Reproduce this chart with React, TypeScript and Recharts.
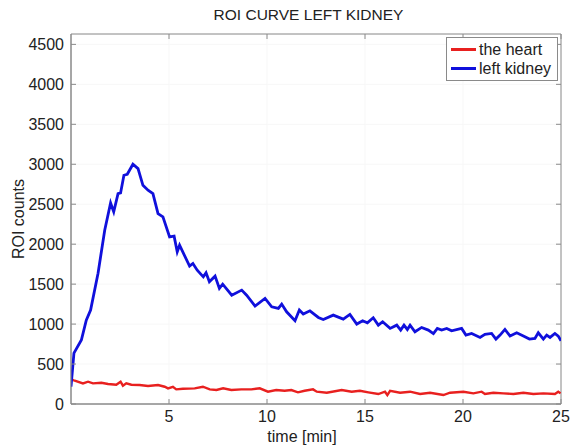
import { CartesianGrid, Legend, Line, LineChart, ReferenceArea, XAxis, YAxis } from 'recharts'

const kidneyTime = [
  0, 0.15, 0.53, 0.78, 1.0, 1.38, 1.72, 2.02, 2.18, 2.4, 2.53, 2.7, 2.87, 3.16, 3.42, 3.67, 3.93, 4.18,
  4.44, 4.69, 5.03, 5.26, 5.42, 5.54, 6.05, 6.22, 6.44, 6.75, 6.89, 7.06, 7.35, 7.57, 7.74, 8.2, 8.71,
  8.96, 9.39, 9.9, 10.24, 10.58, 10.75, 11.0, 11.43, 11.65, 11.85, 12.19, 12.62, 12.87, 13.38, 13.89,
  14.23, 14.58, 14.88, 15.12, 15.42, 15.68, 15.9, 16.28, 16.62, 16.82, 16.99, 17.16, 17.3, 17.55, 17.89,
  18.23, 18.49, 18.69, 18.91, 19.17, 19.42, 19.93, 20.15, 20.44, 20.87, 21.12, 21.46, 21.68, 21.89,
  22.14, 22.4, 22.74, 23.08, 23.39, 23.67, 23.84, 24.1, 24.27, 24.44, 24.69, 24.86, 25.0,
]
const kidneyCounts = [
  216, 637, 800, 1050, 1175, 1637, 2175, 2516, 2404, 2633, 2641, 2862, 2875, 3000, 2946, 2737, 2675, 2633,
  2383, 2341, 2091, 2100, 1904, 1987, 1725, 1758, 1675, 1591, 1641, 1529, 1600, 1446, 1500, 1362, 1425,
  1362, 1225, 1321, 1216, 1196, 1250, 1154, 1041, 1175, 1125, 1166, 1083, 1058, 1112, 1062,
  1121, 1000, 1041, 1016, 1079, 987, 1029, 946, 987, 925, 987, 933, 987, 904, 958,
  925, 880, 946, 925, 946, 916, 946, 862, 883, 833, 871, 883, 812, 862,
  933, 850, 891, 850, 812, 821, 891, 812, 862, 833, 883, 850, 791,
]

const heartTime = [
  0.02, 0.19, 0.61, 0.87, 1.12, 1.55, 1.89, 2.31, 2.53, 2.65, 2.82, 3.08, 3.5, 3.93, 4.44, 4.78, 4.95,
  5.2, 5.37, 5.71, 6.31, 6.73, 7.08, 7.42, 7.76, 8.18, 8.69, 9.2, 9.63, 10.05, 10.47, 10.9, 11.24, 11.58,
  11.92, 12.35, 12.54, 13.05, 13.81, 14.32, 14.74, 15.17, 15.68, 16.02, 16.14, 16.28, 16.79, 17.3, 17.81,
  18.32, 19.0, 19.34, 20.02, 20.53, 20.95, 21.12, 21.55, 22.06, 22.57, 23.08, 23.59, 24.1, 24.69, 24.86,
  24.98,
]
const heartCounts = [
  309, 291, 258, 279, 258, 266, 250, 241, 279, 229, 258, 241, 237, 225, 237, 216, 196,
  216, 183, 191, 196, 216, 183, 175, 196, 175, 183, 183, 196, 154, 175, 166, 175, 146,
  166, 183, 154, 141, 175, 154, 166, 146, 125, 154, 112, 166, 141, 154, 125,
  141, 112, 141, 154, 133, 154, 125, 141, 133, 125, 141, 125, 133, 125, 154,
  133,
]

const xTicks = [5, 10, 15, 20, 25]
const yTicks = [0, 500, 1000, 1500, 2000, 2500, 3000, 3500, 4000, 4500]

const heartData = heartTime.map((t, i) => ({ t, a: heartCounts[i] }))
const kidneyData = kidneyTime.map((t, i) => ({ t, b: kidneyCounts[i] }))

const W = 574
const H = 446
const PLOT_LEFT = 71
const PLOT_RIGHT = 561
const PLOT_TOP = 34
const PLOT_BOTTOM = 404
const FONT = '"Liberation Sans", Arial, sans-serif'
const AXIS = '#8a8a8a'
const TEXT = '#222'

function YTick(props: any) {
  const { x, y, payload } = props
  return (
    <g>
      <text x={x - 7} y={y} textAnchor="end" dominantBaseline="central" fontSize={16} fill={TEXT} fontFamily={FONT}>
        {payload.value}
      </text>
      <line x1={x} x2={x + 5} y1={y} y2={y} stroke={AXIS} />
      <line x1={PLOT_RIGHT - 5} x2={PLOT_RIGHT} y1={y} y2={y} stroke={AXIS} />
    </g>
  )
}

function XTick(props: any) {
  const { x, y, payload } = props
  return (
    <g>
      <text x={x} y={y + 18} textAnchor="middle" fontSize={16} fill={TEXT} fontFamily={FONT}>
        {payload.value}
      </text>
      <line x1={x} x2={x} y1={y - 5} y2={y} stroke={AXIS} />
      <line x1={x} x2={x} y1={PLOT_TOP} y2={PLOT_TOP + 5} stroke={AXIS} />
    </g>
  )
}

function LegendBox(props: any) {
  const items = props.payload || []
  return (
    <div
      style={{
        border: `1px solid ${AXIS}`,
        background: '#fff',
        padding: '2px 4px 2px 4px',
        fontFamily: FONT,
        fontSize: 16,
        color: TEXT,
        width: 102,
      }}
    >
      {items.map((it: any) => (
        <div key={it.value} style={{ display: 'flex', alignItems: 'center', height: 19 }}>
          <span style={{ display: 'inline-block', width: 25, height: 3, background: it.color, marginRight: 3 }} />
          <span>{it.value}</span>
        </div>
      ))}
    </div>
  )
}

export default function App() {
  return (
    <div style={{ position: 'absolute', left: 0, top: 0, width: W, height: H, background: '#fff' }}>
      <div
        style={{
          position: 'absolute',
          left: 0,
          width: 617,
          top: 6,
          textAlign: 'center',
          fontFamily: FONT,
          fontSize: 15.5,
          color: TEXT,
        }}
      >
        ROI CURVE LEFT KIDNEY
      </div>
      <LineChart
        width={W}
        height={H}
        margin={{ top: PLOT_TOP, right: W - PLOT_RIGHT, bottom: 0, left: 0 }}
      >
        <CartesianGrid stroke="#f7f7f7" />
        <XAxis
          type="number"
          dataKey="t"
          domain={[0, 25]}
          ticks={xTicks}
          height={H - PLOT_BOTTOM}
          tickSize={0}
          tickMargin={0}
          tick={<XTick />}
          axisLine={{ stroke: AXIS }}
          tickLine={false}
          allowDataOverflow
          label={{ value: 'time [min]', position: 'insideBottom', offset: 4, dx: -14, fill: TEXT, fontSize: 16, fontFamily: FONT }}
        />
        <YAxis
          type="number"
          domain={[0, 4630]}
          ticks={yTicks}
          width={PLOT_LEFT}
          tickSize={0}
          tickMargin={0}
          tick={<YTick />}
          axisLine={{ stroke: AXIS }}
          tickLine={false}
          allowDataOverflow
          label={{
            value: 'ROI counts',
            angle: -90,
            position: 'insideLeft',
            offset: 18,
            fill: TEXT,
            fontSize: 16,
            fontFamily: FONT,
            style: { textAnchor: 'middle' },
          }}
        />
        <ReferenceArea x1={0} x2={25} y1={0} y2={4630} fill="none" stroke={AXIS} />
        <Legend
          layout="horizontal"
          verticalAlign="middle"
          align="center"
          itemSorter="dataKey"
          content={<LegendBox />}
          wrapperStyle={{ position: 'absolute', left: 446, top: 37, width: 'auto' }}
        />
        <Line
          data={heartData}
          dataKey="a"
          name="the heart"
          type="linear"
          stroke="#e8201f"
          strokeWidth={2.4}
          dot={false}
          isAnimationActive={false}
        />
        <Line
          data={kidneyData}
          dataKey="b"
          name="left kidney"
          type="linear"
          stroke="#1010dc"
          strokeWidth={2.8}
          dot={false}
          isAnimationActive={false}
        />
      </LineChart>
    </div>
  )
}
